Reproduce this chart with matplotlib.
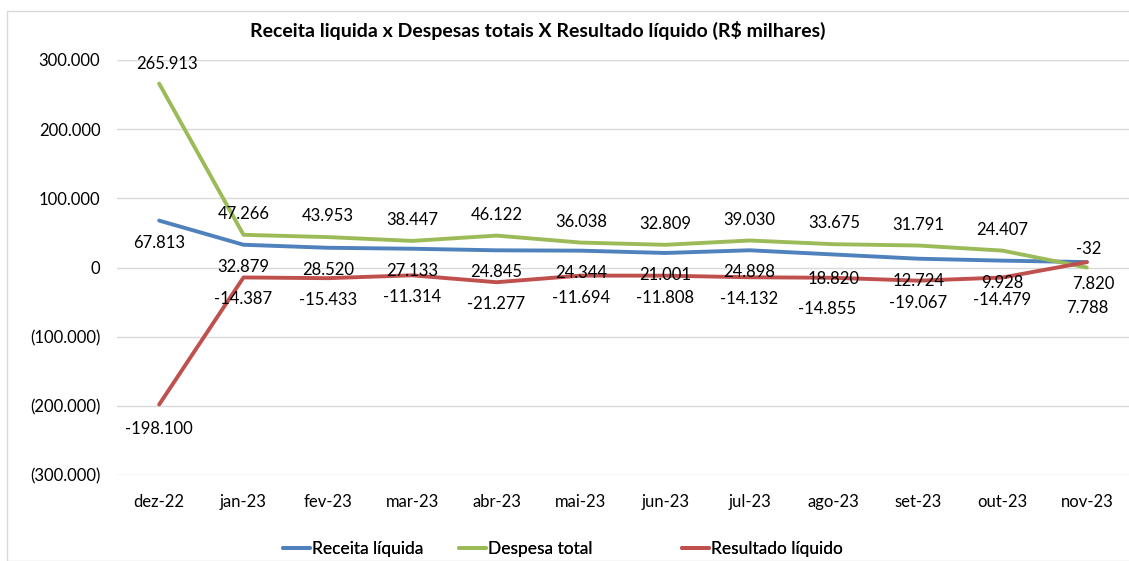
import matplotlib.pyplot as plt
from matplotlib.patches import Rectangle

plt.rcParams['font.family'] = ['Lato', 'DejaVu Sans']

meses = ['dez-22', 'jan-23', 'fev-23', 'mar-23', 'abr-23', 'mai-23',
         'jun-23', 'jul-23', 'ago-23', 'set-23', 'out-23', 'nov-23']
receita = [67813, 32879, 28520, 27133, 24845, 24344,
           21001, 24898, 18820, 12724, 9928, 7820]
despesa = [265913, 47266, 43953, 38447, 46122, 36038,
           32809, 39030, 33675, 31791, 24407, -32]
resultado = [-198100, -14387, -15433, -11314, -21277, -11694,
             -11808, -14132, -14855, -19067, -14479, 7788]

AZUL = '#4F81BD'
VERDE = '#9BBB59'
VERMELHO = '#C0504D'


def fmt_eixo(v, pos=None):
    s = '{:,.0f}'.format(abs(v)).replace(',', '.')
    return '({})'.format(s) if v < 0 else s


def fmt_rotulo(v):
    return '{:,.0f}'.format(v).replace(',', '.')


def main():
    fig = plt.figure(figsize=(11.29, 5.61), dpi=100)
    fig.patches.append(Rectangle((7 / 1129, 0), 1.2, 1 - 11 / 561,
                                 transform=fig.transFigure, fill=False,
                                 edgecolor='#D9D9D9', linewidth=1))
    ax = fig.add_axes([117 / 1129, 1 - 475 / 561, 1012 / 1129, 415 / 561])

    x = list(range(len(meses)))
    linhas = []
    for serie, cor, nome in ((receita, AZUL, 'Receita líquida'),
                             (despesa, VERDE, 'Despesa total'),
                             (resultado, VERMELHO, 'Resultado líquido')):
        l, = ax.plot(x, serie, color=cor, lw=2.8, label=nome,
                     solid_capstyle='round', zorder=3)
        linhas.append(l)

    ax.set_xlim(-0.5, len(meses) - 0.5)
    ax.set_ylim(-300000, 300000)
    ax.set_yticks(range(-300000, 300001, 100000))
    ax.yaxis.set_major_formatter(plt.FuncFormatter(fmt_eixo))
    ax.set_xticks(x)
    ax.set_xticklabels(meses)
    ax.tick_params(length=0, labelsize=12, colors='black')
    ax.tick_params(axis='x', pad=14)
    ax.tick_params(axis='y', pad=12)
    ax.grid(axis='y', color='#D9D9D9', lw=1)
    ax.set_axisbelow(True)
    for s in ax.spines.values():
        s.set_visible(False)

    # deslocamentos dos rotulos em pixels (dx, dy)
    off_desp = [(0, 21)] * 12
    off_desp[0] = (8, 20)
    off_desp[11] = (2, 19)
    off_rec = [(0, -22)] * 12
    off_rec[8] = (0, -25)
    off_rec[11] = (6, -22)
    off_res = [(0, -22)] * 12
    off_res[0] = (0, -24)
    off_res[8] = (-7, -31)
    off_res[11] = (0, -46)

    for serie, offs in ((despesa, off_desp), (receita, off_rec),
                        (resultado, off_res)):
        for i, v in enumerate(serie):
            ax.annotate(fmt_rotulo(v), (i, v), xytext=offs[i],
                        textcoords='offset pixels', ha='center',
                        va='center', fontsize=12, zorder=4)

    fig.text(538 / 1129, 1 - 30 / 561,
             'Receita liquida x Despesas totais X Resultado líquido (R$ milhares)',
             ha='center', va='center', fontsize=14, fontweight='bold')

    # uma legenda por serie, como no Excel
    for l, xpos in zip(linhas, (283, 459, 682)):
        leg = fig.legend(handles=[l], loc='center left',
                         bbox_to_anchor=(xpos / 1129, 1 - 549 / 561),
                         frameon=False, fontsize=12.5, handlelength=1.55,
                         handletextpad=0.1, borderpad=0, borderaxespad=0)
        fig.add_artist(leg)

    fig.savefig('out.png', dpi=100)


if __name__ == '__main__':
    main()
